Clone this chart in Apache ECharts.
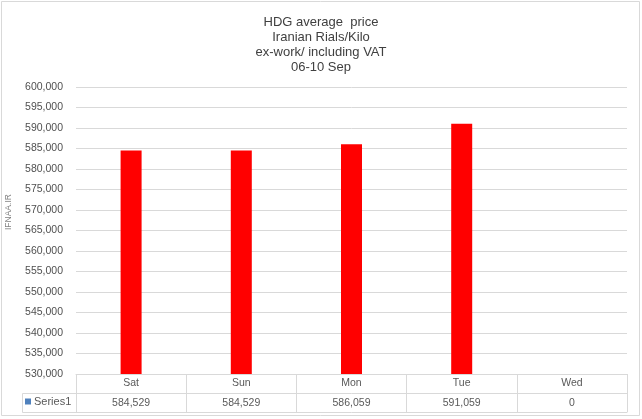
<!DOCTYPE html>
<html><head><meta charset="utf-8">
<script src="https://cdn.jsdelivr.net/npm/echarts@6/dist/echarts.min.js"></script>
<style>html,body{margin:0;padding:0;background:#fff}#c{width:642px;height:419px}</style>
</head><body><div id="c"></div>
<script>
const titleLines = ['HDG average  price', 'Iranian Rials/Kilo', 'ex-work/ including VAT', '06-10 Sep'];
const categories = ['Sat', 'Sun', 'Mon', 'Tue', 'Wed'];
const seriesName = 'Series1';
const values = [584529, 584529, 586059, 591059, 0];
const yMin = 530000, yMax = 600000, yStep = 5000;

const fmt = v => Number(v).toLocaleString('en-US');
const FONT = 'Liberation Sans';
const grey = '#d9d9d9';
const chart = echarts.init(document.getElementById('c'), null, {renderer: 'canvas'});
chart.setOption({
  animation: false,
  backgroundColor: '#fff',
  textStyle: {fontFamily: FONT},
  title: {
    text: titleLines.join('\n'),
    left: 'center', top: 10,
    textStyle: {fontFamily: FONT, fontSize: 13, fontWeight: 'normal', color: '#404040', lineHeight: 15}
  },
  legend: {
    data: [{name: seriesName, itemStyle: {color: '#4f81bd'}}],
    left: 25, top: 396, icon: 'rect', itemWidth: 6, itemHeight: 6, itemGap: 2,
    selectedMode: false, padding: 0,
    textStyle: {fontFamily: FONT, fontSize: 11, color: '#595959', padding: [0, 0, 0, -2]}
  },
  grid: {left: 76, right: 15, top: 87, bottom: 45, containLabel: false},
  xAxis: [
    {type: 'category', data: categories, position: 'bottom',
     axisLine: {show: true, lineStyle: {color: grey}},
     axisTick: {show: true, length: 38, alignWithLabel: false, lineStyle: {color: grey}},
     axisLabel: {margin: 4, fontFamily: FONT, fontSize: 10.5, color: '#595959'},
     splitLine: {show: false}},
    {type: 'category', data: categories, position: 'bottom', offset: 19,
     axisLine: {show: true, lineStyle: {color: grey}},
     axisTick: {show: false},
     axisLabel: {margin: 5, fontFamily: FONT, fontSize: 10.5, color: '#595959',
       formatter: (v, i) => fmt(values[i])}},
    {type: 'category', data: categories, position: 'bottom', offset: 38,
     axisLine: {show: true, lineStyle: {color: grey}},
     axisTick: {show: false}, axisLabel: {show: false}}
  ],
  yAxis: {
    type: 'value', min: yMin, max: yMax, interval: yStep,
    axisLine: {show: false}, axisTick: {show: false},
    axisLabel: {margin: 13, fontFamily: FONT, fontSize: 10.5, color: '#505050', formatter: v => fmt(v)},
    splitLine: {show: true, lineStyle: {color: grey, width: 1}}
  },
  series: [{
    name: seriesName, type: 'bar', data: values, xAxisIndex: 0,
    barWidth: 21, itemStyle: {color: '#ff0000'}, clip: true
  }],
  graphic: [
    {type: 'rect', shape: {x: 1.5, y: 1.5, width: 638, height: 414}, style: {fill: 'none', stroke: grey, lineWidth: 1}, silent: true},
    {type: 'polyline', shape: {points: [[76, 393.5], [22.5, 393.5], [22.5, 412.5], [76, 412.5]]}, style: {fill: 'none', stroke: grey, lineWidth: 1}, silent: true},
    {type: 'text', x: 4, y: 230, rotation: Math.PI / 2,
     style: {text: 'IFNAA.IR', fontFamily: FONT, fontSize: 8.5, fill: '#808080'}, silent: true}
  ]
});
</script></body></html>
